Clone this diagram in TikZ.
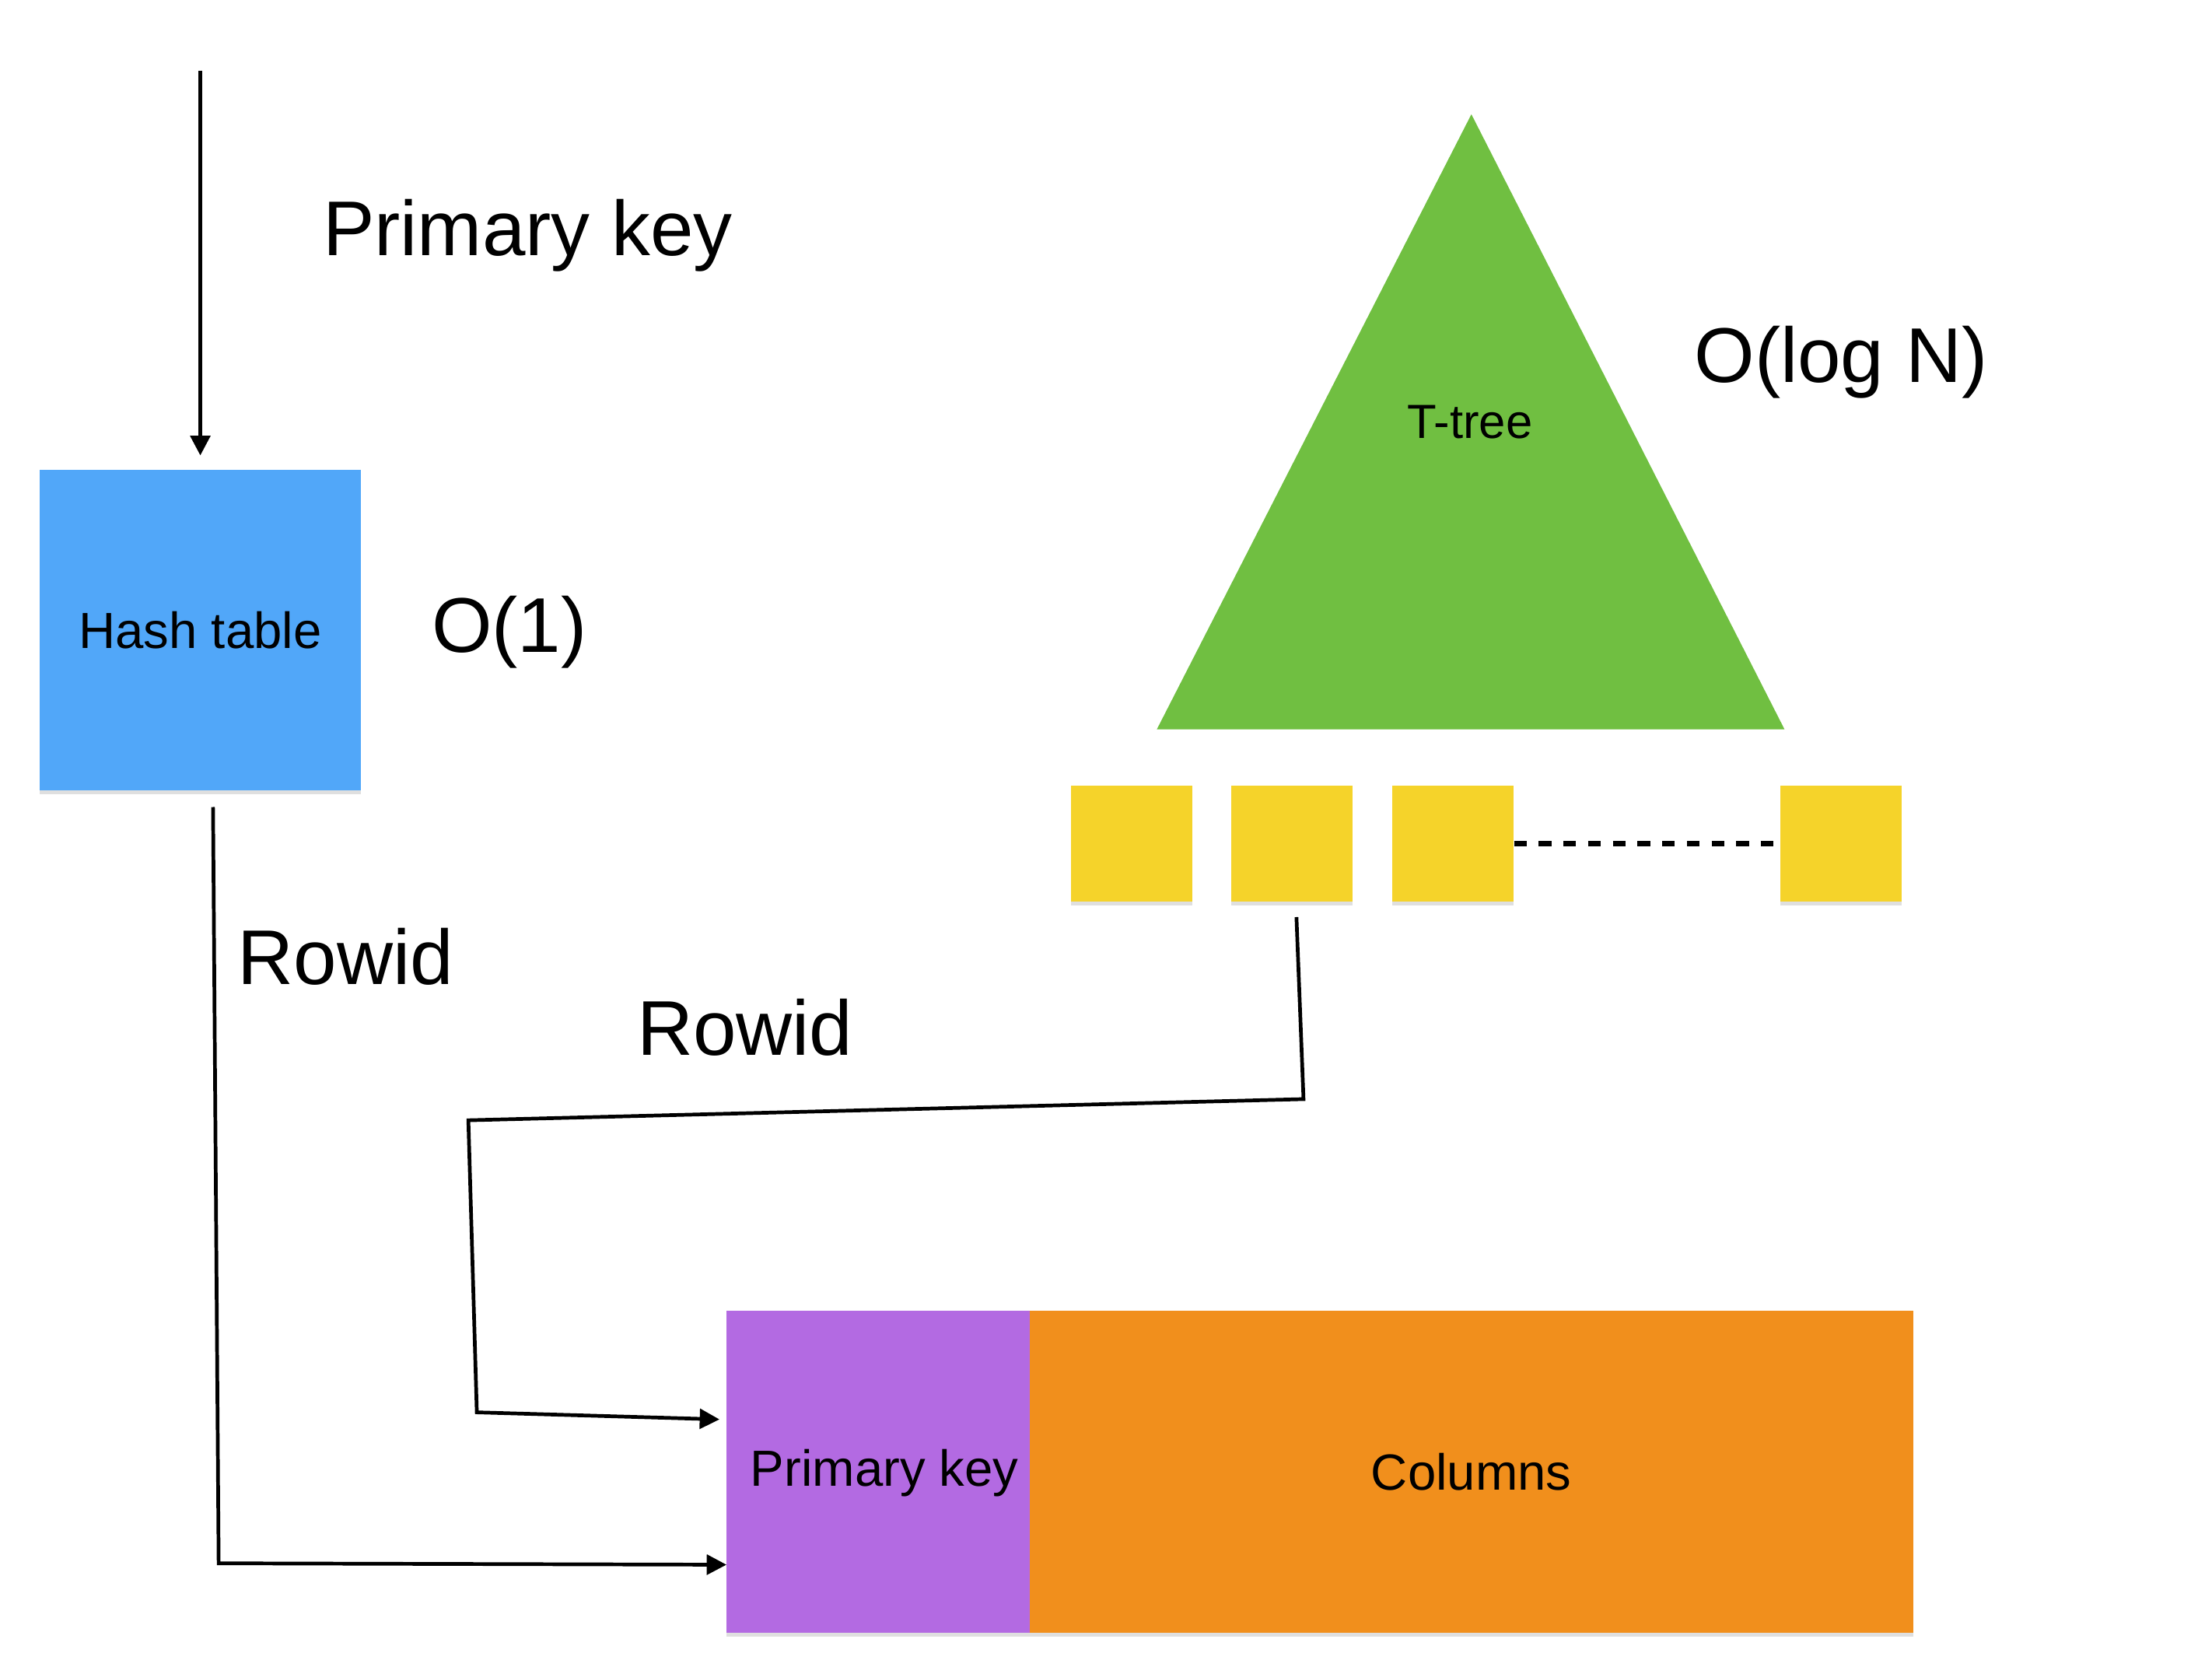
\documentclass[tikz,border=0pt]{standalone}
\usepackage{fontspec}
\setmainfont{Liberation Sans}
\usetikzlibrary{arrows.meta,shadows}
\definecolor{hashblue}{HTML}{51A7F9}
\definecolor{treegreen}{HTML}{70BF41}
\definecolor{leafyellow}{HTML}{F5D32A}
\definecolor{pkpurple}{HTML}{B36AE2}
\definecolor{colorange}{HTML}{F18F1C}
\tikzset{
  shade/.style={drop shadow={opacity=0.25,shadow xshift=0pt,shadow yshift=-3pt}},
  box/.style={rectangle,inner sep=0pt,draw=none,shade,font=\fontsize{36}{40}\selectfont},
  leaf/.style={rectangle,inner sep=0pt,draw=none,fill=leafyellow,shade,minimum width=86pt,minimum height=82pt},
  biglabel/.style={inner sep=0pt,font=\fontsize{55}{60}\selectfont},
  conn/.style={line width=2.6pt,-{Triangle[length=14pt,width=14pt]}},
  plainconn/.style={line width=2.6pt}
}
\begin{document}
\begin{tikzpicture}[x=1pt,y=-1pt]
\useasboundingbox (0,0) rectangle (1568,1176);

% Hash table
\node[box,fill=hashblue,minimum width=228pt,minimum height=227pt] (hash) at (142,446.5) {Hash table};
\coordinate (topstart) at (142,50);
\draw[conn,shorten >=10pt] (topstart) -- (hash.north);
\node[biglabel] (pklabel) at (374,167) {Primary key};
\node[biglabel] (o1) at (361,448) {O(1)};

% T-tree
\coordinate (apex) at (1043,81);
\coordinate (bl) at (820,517);
\coordinate (br) at (1265,517);
\fill[treegreen] (apex) -- (br) -- (bl) -- cycle;
\node[inner sep=0pt,font=\fontsize{34}{40}\selectfont] (ttree) at (1042,299) {T-tree};
\node[biglabel] (ologn) at (1305,257) {O(log N)};

% Leaves
\node[leaf] (l1) at (802,598) {};
\node[leaf] (l2) at (916,598) {};
\node[leaf] (l3) at (1030,598) {};
\node[leaf] (l4) at (1305,598) {};
\draw[line width=4pt,dash pattern=on 9pt off 8.5pt] (l3.east) -- (l4.west);

% Row
\node[box,fill=pkpurple,minimum width=215pt,minimum height=228pt] (pk) at (622.5,1043) {};
\node[box,fill=colorange,minimum width=626pt,minimum height=228pt] (cols) at (1043,1043) {Columns};
\node[inner sep=0pt,font=\fontsize{36}{40}\selectfont] (pktext) at (627,1044) {Primary key};

% Connectors
\coordinate (hs) at (151,572);
\coordinate (hb) at (155,1108);
\coordinate (he) at (515,1109);
\draw[conn] (hs) -- (hb) -- (he);
\node[biglabel] (rowid1) at (245,678) {Rowid};

\coordinate (ts) at (919,650);
\coordinate (t1) at (924,779);
\coordinate (t2) at (332,794);
\coordinate (t3) at (338,1001);
\coordinate (te) at (510,1006);
\draw[conn] (ts) -- (t1) -- (t2) -- (t3) -- (te);
\node[biglabel] (rowid2) at (528,728) {Rowid};
\end{tikzpicture}
\end{document}
